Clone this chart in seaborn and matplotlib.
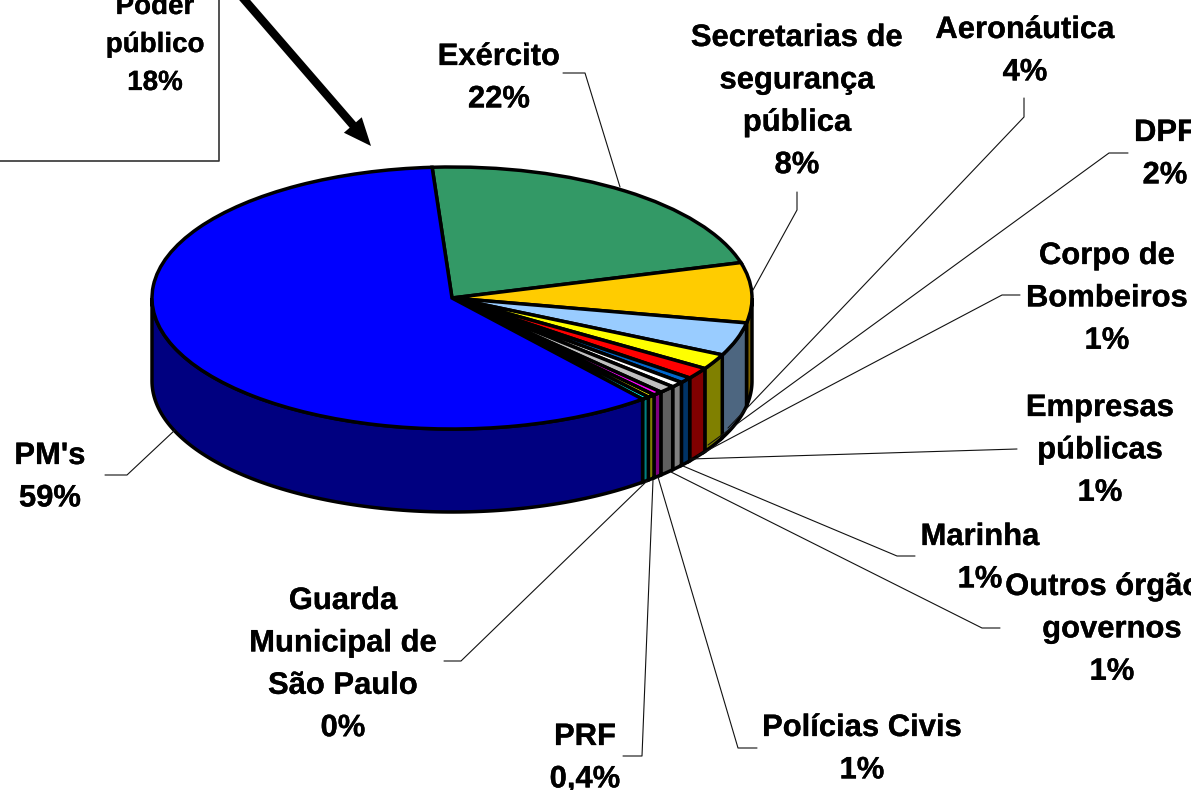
import numpy as np
import matplotlib
matplotlib.use("Agg")
import matplotlib.pyplot as plt
import matplotlib.patheffects as pe
import seaborn as sns

# percentuais (sentido horario a partir do Exercito)
categories = ["Exército", "Secretarias", "Aeronáutica", "DPF", "Bombeiros", "Empresas",
              "Marinha", "Outros", "Civis", "PRF", "Guarda", "PMs"]
values = [21.7, 7.4, 4.1, 1.9, 1.4, 0.7, 0.7, 0.9, 0.5, 0.4, 0.4, 59.9]
top_colors = ["#339966", "#FFCC00", "#99CCFF", "#FFFF00", "#FF0000", "#0066CC",
              "#FFFFFF", "#C0C0C0", "#FF00FF", "#FFFF00", "#00FFFF", "#0000FF"]
side_colors = ["#1A4D33", "#806600", "#4D6680", "#808000", "#800000", "#003366",
               "#808080", "#606060", "#800080", "#808000", "#008080", "#000080"]

label_lines = [
    ["Exército", "22%"],
    ["Secretarias de", "segurança", "pública", "8%"],
    ["Aeronáutica", "4%"],
    ["DPF", "2%"],
    ["Corpo de", "Bombeiros", "1%"],
    ["Empresas", "públicas", "1%"],
    ["Marinha", "1%"],
    ["Outros órgãos", "governos", "1%"],
    ["Polícias Civis", "1%"],
    ["PRF", "0,4%"],
    ["Guarda", "Municipal de", "São Paulo", "0%"],
    ["PM's", "59%"],
]
box_lines = ["Poder", "público", "18%"]

# posicao de cada rotulo: centro x, baseline da primeira linha (px)
label_pos = [(499, 65), (797, 46), (1025, 38), (1165, 141), (1107, 264), (1100, 416),
             (980, 545), (1112, 595), (862, 736), (585, 745), (343, 609), (50, 464)]
leaders = [
    [(563, 73), (585, 73), (620, 187)],
    [(797, 192), (797, 210), (753, 290)],
    [(1024, 98), (1024, 117), (728, 428)],
    [(1128, 153), (1109, 153), (708, 445)],
    [(1020, 295), (1002, 295), (697, 456)],
    [(1017, 449), (690, 459)],
    [(915, 556), (897, 556), (683, 466)],
    [(1000, 628), (982, 628), (671, 472)],
    [(757, 748), (738, 748), (658, 477)],
    [(623, 756), (642, 756), (653, 480)],
    [(444, 661), (461, 661), (647, 481)],
    [(105, 475), (127, 475), (175, 430)],
]

W, H = 1191, 790
CX, CY, RX, RY, DEPTH = 452, 298, 300, 131, 83
START = 356.2  # angulo do inicio do Exercito, horario a partir do topo
EDGE = 2.5

sns.set_theme(style="white")
plt.rcParams["font.family"] = ["Liberation Sans", "DejaVu Sans"]

fig = plt.figure(figsize=(W / 100, H / 100), dpi=100, facecolor="white")

# eixo da pizza: raio 1 esticado para virar elipse
ax = fig.add_axes([0, 0, 1, 1])
ax.pie(values, colors=sns.color_palette(top_colors), startangle=90 - START, counterclock=False,
       radius=1, wedgeprops=dict(edgecolor="black", linewidth=EDGE, zorder=3))
ax.set_aspect("auto")
ax.set_xlim(-CX / RX, (W - CX) / RX)
ax.set_ylim((CY - H) / RY, CY / RY)
ax.axis("off")

# parede lateral
depth = DEPTH / RY
edges = (START + np.cumsum([0] + values) * 3.6) - 360
for i, col in enumerate(side_colors):
    a0, a1 = max(edges[i], 90), min(edges[i + 1], 270)
    if a1 <= a0:
        continue
    th = np.radians(np.linspace(a0, a1, 120))
    xs = np.sin(th)
    ys = np.cos(th)
    ax.fill(np.r_[xs, xs[::-1]], np.r_[ys, ys[::-1] - depth], facecolor=col,
            edgecolor="black", linewidth=EDGE, zorder=2)

# camada em pixels para textos e linhas
over = fig.add_axes([0, 0, 1, 1])
over.set_xlim(0, W)
over.set_ylim(H, 0)
over.axis("off")
over.patch.set_alpha(0)

for pts in leaders:
    over.plot([p[0] for p in pts], [p[1] for p in pts], color="#111111", lw=0.8)

heavy = [pe.withStroke(linewidth=0.2, foreground="black")]
for lines, (x, y) in zip(label_lines, label_pos):
    for i, line in enumerate(lines):
        over.text(x, y + i * 42.4, line, ha="center", va="baseline", fontsize=22.3,
                  fontweight="bold", color="black", path_effects=heavy)

# caixa do poder publico e seta
over.plot([0, 219, 219], [161, 161, 0], color="#333333", lw=1.2)
for i, line in enumerate(box_lines):
    over.text(155, 14 + i * 38, line, ha="center", va="baseline", fontsize=20,
              fontweight="bold", color="black", path_effects=heavy)
over.annotate("", xy=(371, 146), xytext=(236, -10), annotation_clip=False,
              arrowprops=dict(facecolor="black", edgecolor="black", width=6, headwidth=17,
                              headlength=20, shrink=0, linewidth=0))

fig.savefig("out.png", dpi=100)
